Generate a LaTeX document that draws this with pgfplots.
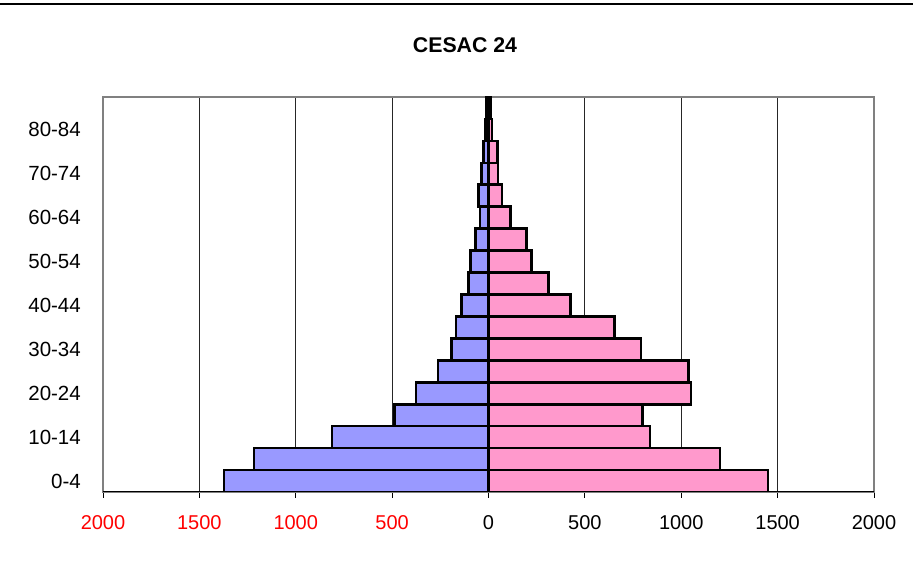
\documentclass[border=0pt]{standalone}
\usepackage{pgfplots}
\pgfplotsset{compat=1.18}
\usepackage{fontspec}
\setmainfont{Liberation Sans}
\definecolor{menblue}{HTML}{9999FF}
\definecolor{womenpink}{HTML}{FF99CC}
\definecolor{framegray}{HTML}{808080}
\begin{document}
\begin{tikzpicture}[x=1pt,y=1pt]
\useasboundingbox (0,0) rectangle (913,570);
\draw[black, line width=2pt] (0,566.3) -- (913,566.3);
\node[font=\bfseries\fontsize{21.3}{24}\selectfont] at (465,525) {CESAC 24};
\begin{axis}[
  at={(103pt,78pt)}, anchor=south west,
  scale only axis, width=771pt, height=395pt,
  xmin=-2000, xmax=2000, ymin=-0.5, ymax=17.5,
  xtick={-2000,-1500,-1000,-500,0,500,1000,1500,2000},
  xticklabels={\textcolor{red}{2000},\textcolor{red}{1500},\textcolor{red}{1000},\textcolor{red}{500},0,500,1000,1500,2000},
  ytick={0,2,4,6,8,10,12,14,16},
  yticklabels={0-4,10-14,20-24,30-34,40-44,50-54,60-64,70-74,80-84},
  xtick pos=bottom, ytick pos=left,
  tick align=outside,
  major tick length=6pt,
  xtick style={black, line width=0.8pt},
  ytick style={draw=none},
  xmajorgrids, grid style={black!85, line width=0.9pt},
  axis line style={framegray, line width=1.3pt},
  xticklabel style={font=\fontsize{20}{22}\selectfont, anchor=north, inner sep=0pt, yshift=-17pt},
  yticklabel style={font=\fontsize{20.5}{22}\selectfont, anchor=east, inner sep=0pt, xshift=-16pt},
  /pgf/number format/assume math mode=true,
  bar width=1,
]
\addplot[xbar, bar shift=0pt, fill=menblue, draw=black, line width=2.6pt] coordinates {
(-1373,0) (-1216,1) (-812,2) (-487,3) (-377,4) (-263,5) (-193,6) (-169,7) (-141,8)
(-105,9) (-92,10) (-69,11) (-45,12) (-52,13) (-35,14) (-26,15) (-15,16) (-12,17)};
\addplot[xbar, bar shift=0pt, fill=womenpink, draw=black, line width=2.6pt] coordinates {
(1451,0) (1200,1) (838,2) (798,3) (1051,4) (1039,5) (792,6) (655,7) (426,8)
(312,9) (223,10) (196,11) (113,12) (71,13) (50,14) (48,15) (18,16) (12,17)};
\draw[black, line width=1.3pt] (rel axis cs:0,0) -- (rel axis cs:1,0);
\end{axis}
\end{tikzpicture}
\end{document}
